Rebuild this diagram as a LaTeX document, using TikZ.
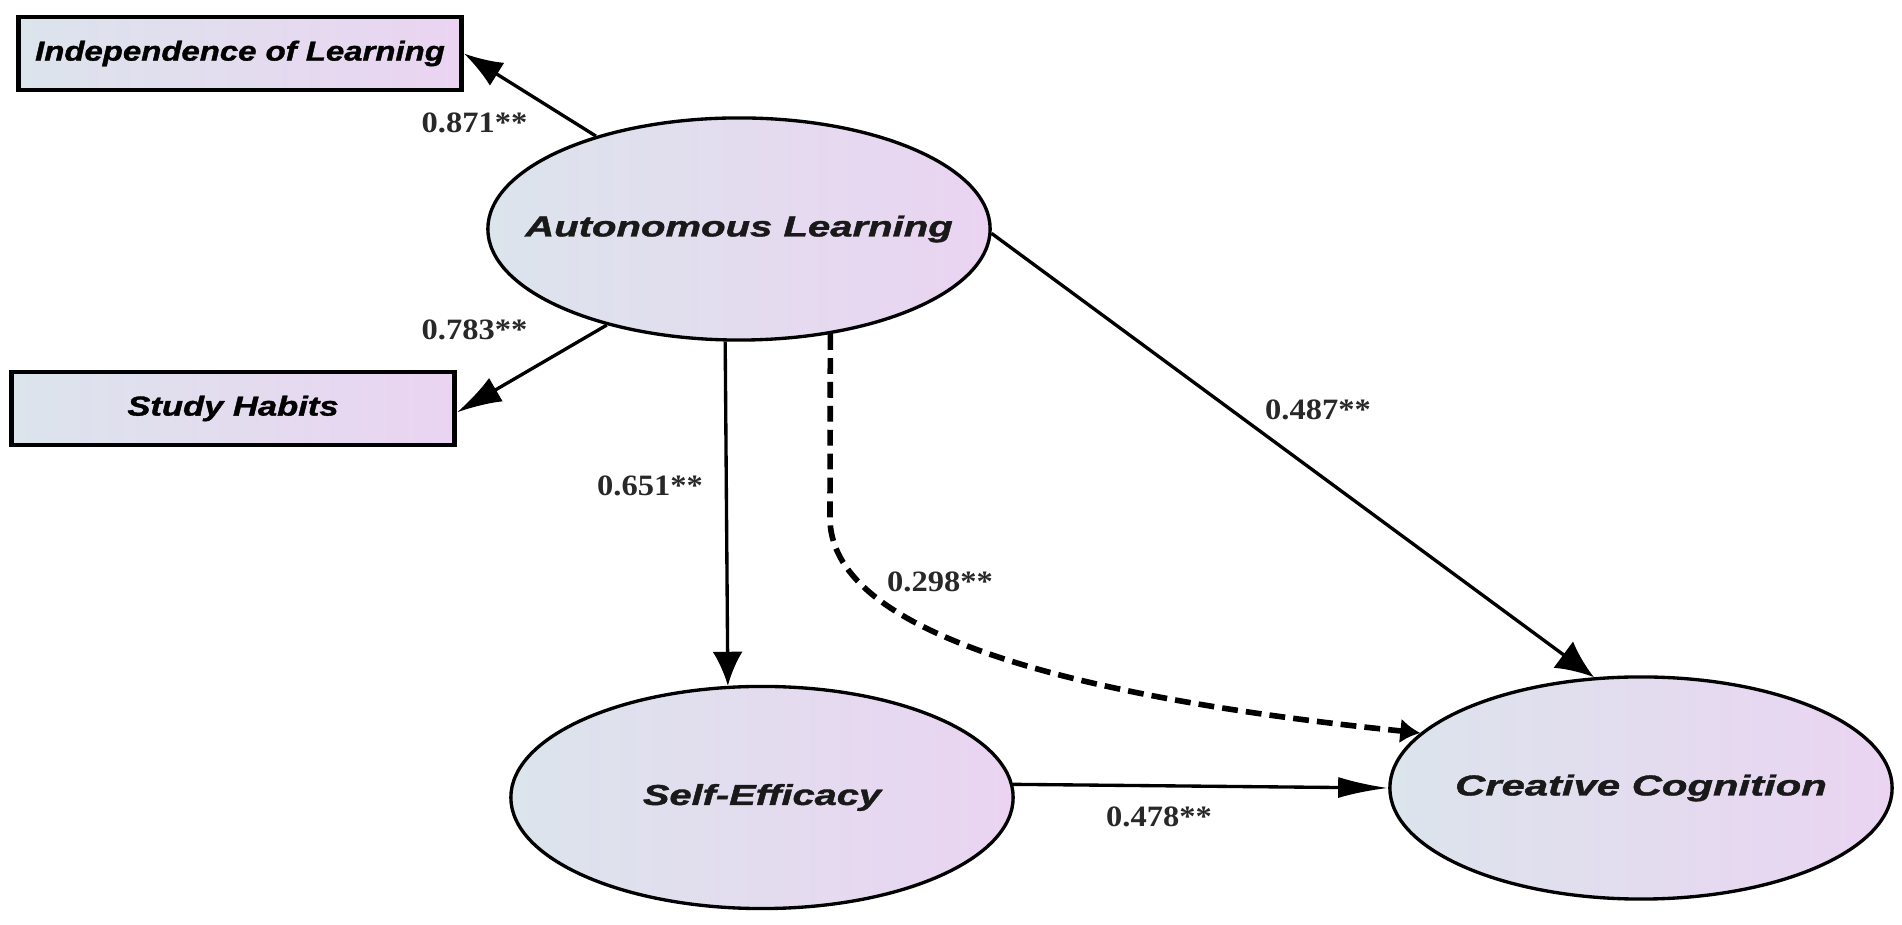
\documentclass[tikz,border=0pt]{standalone}
\usepackage{graphicx}
\usepackage{fontspec}
\setmainfont{Liberation Serif}
\newfontfamily\labfont{Liberation Sans}[FakeBold=1.2]
\usetikzlibrary{arrows.meta,shapes.geometric}
\definecolor{cA}{RGB}{220,228,236}
\definecolor{cB}{RGB}{234,212,242}
\definecolor{numc}{RGB}{40,40,40}
\begin{document}
\begin{tikzpicture}[x=0.01cm,y=-0.01cm,
  latent/.style={ellipse, draw=black, line width=0.95pt, left color=cA, right color=cB,
    minimum width=5.02cm, minimum height=2.22cm, inner sep=0pt,
    font=\labfont\bfseries\itshape\fontsize{8.2}{10}\selectfont, text=black!90},
  obs/.style={rectangle, draw=black, line width=1.3pt, left color=cA, right color=cB,
    minimum width=4.43cm, minimum height=0.73cm, inner sep=0pt,
    font=\labfont\bfseries\itshape\fontsize{7.8}{10}\selectfont, text=black},
  coef/.style={font=\bfseries\fontsize{8.4}{10}\selectfont, text=numc, inner sep=0pt},
  conn/.style={line width=0.95pt, draw=black},
  dashconn/.style={line width=1.6pt, draw=black, dash pattern=on 4.5pt off 2.3pt,
    -{Latex[length=0.2cm,width=0.25cm]}}
]
\useasboundingbox (0,0) rectangle (1902,925);

% nodes
\node[obs] (ind) at (240,53.5) {\scalebox{1.2}[1]{Independence of Learning}};
\node[obs] (sh) at (233,408.5) {\scalebox{1.26}[1]{Study Habits}};
\node[latent] (auto) at (739,229) {\makebox[0pt]{\scalebox{1.39}[1]{Autonomous Learning}}};
\node[latent] (self) at (762,797.5) {\makebox[0pt]{\scalebox{1.38}[1]{Self-Efficacy}}};
\node[latent] (crea) at (1641,788) {\makebox[0pt]{\scalebox{1.45}[1]{Creative Cognition}}};

% connectors
\draw[conn, -{Latex[length=0.39cm,width=0.27cm]}] (auto.147.8) -- (ind.east);
\draw[conn, -{Latex[length=0.45cm,width=0.27cm]}] (auto.216.2) -- (sh.-1.4);
\draw[conn, -{Latex[length=0.34cm,width=0.30cm]}] (auto.263.8) -- (self.107.4);
\draw[conn, -{Latex[length=0.38cm,width=0.33cm]}] (auto.-1) -- (crea.113.8);
\draw[conn, -{Latex[length=0.50cm,width=0.21cm]}] (self.3.2) -- (crea.west);
\draw[dashconn] (auto.-49.4) -- (830,520) .. controls (833,640) and (1100,700) .. (crea.166.7);

% coefficients
\node[coef] (c1) at (474.5,122.5) {\scalebox{1.1}[1]{0.871**}};
\node[coef] (c2) at (474.5,330) {\scalebox{1.1}[1]{0.783**}};
\node[coef] (c3) at (650,486) {\scalebox{1.1}[1]{0.651**}};
\node[coef] (c4) at (940,582) {\scalebox{1.1}[1]{0.298**}};
\node[coef] (c5) at (1318,410) {\scalebox{1.1}[1]{0.487**}};
\node[coef] (c6) at (1159,817) {\scalebox{1.1}[1]{0.478**}};
\end{tikzpicture}
\end{document}
